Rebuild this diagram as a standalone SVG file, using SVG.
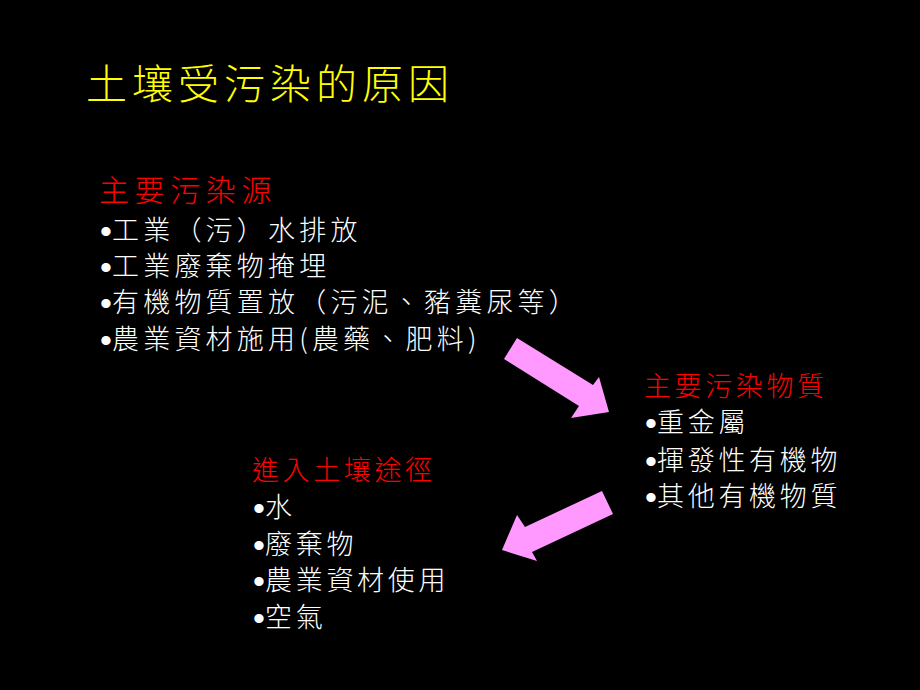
<svg xmlns="http://www.w3.org/2000/svg" width="920" height="690" viewBox="0 0 920 690">
<style>
text{font-family:"Noto Sans CJK TC","Noto Sans CJK SC",sans-serif;font-weight:300;}
.t{fill:#FFFF00;font-size:41px;letter-spacing:5px;}
.h{fill:#FF0000;font-size:27px;letter-spacing:3.6px;}
.h1{fill:#FF0000;font-size:30px;letter-spacing:5.6px;}
.w{fill:#FFFFFF;font-size:27px;letter-spacing:4.2px;}
.w2{fill:#FFFFFF;font-size:27px;letter-spacing:3.7px;}
.b{fill:#FFFFFF;font-size:34px;font-family:"Liberation Sans",sans-serif;letter-spacing:0;}
.arr{fill:#FF99FF;}
</style>
<rect width="920" height="690" fill="#000000"/>
<g id="title"><text class="t" x="86" y="99">土壤受污染的原因</text></g>
<g id="sources">
<text class="h1" x="99" y="201">主要污染源</text>
<text class="b" x="100" y="243">•</text><text class="w" x="112" y="240">工業（污）水排放</text>
<text class="b" x="100" y="279">•</text><text class="w" x="112" y="276">工業廢棄物掩埋</text>
<text class="b" x="100" y="315">•</text><text class="w" x="112" y="312">有機物質置放（污泥、豬糞尿等）</text>
<text class="b" x="100" y="352">•</text><text class="w" x="112" y="349">農業資材施用(農藥、肥料)</text>
</g>
<g id="substances">
<text class="h" x="644" y="396">主要污染物質</text>
<text class="b" x="645" y="435">•</text><text class="w2" x="657" y="432">重金屬</text>
<text class="b" x="645" y="473">•</text><text class="w2" x="657" y="470">揮發性有機物</text>
<text class="b" x="645" y="509">•</text><text class="w2" x="657" y="506">其他有機物質</text>
</g>
<g id="pathways">
<text class="h" x="252" y="480">進入土壤途徑</text>
<text class="b" x="253" y="520">•</text><text class="w2" x="265" y="517">水</text>
<text class="b" x="253" y="557">•</text><text class="w2" x="265" y="554">廢棄物</text>
<text class="b" x="253" y="593">•</text><text class="w2" x="265" y="590">農業資材使用</text>
<text class="b" x="253" y="630">•</text><text class="w2" x="265" y="627">空氣</text>
</g>
<g id="connectors">
<polygon class="arr" points="517,338 593,385 599,377 609,412 571,418 579,406 504,359"/>
<polygon class="arr" points="602,491 613,514 532,552 537,561 502,550 517,515 525,527"/>
</g>
</svg>
